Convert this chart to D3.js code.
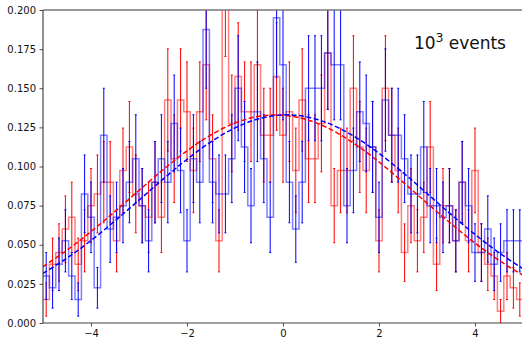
<!DOCTYPE html>
<html>
<head>
<meta charset="utf-8">
<script src="https://cdn.jsdelivr.net/npm/d3@7"></script>
<style>
  body { margin: 0; background: #fff; }
  svg { display: block; font-family: "DejaVu Sans", sans-serif; }
</style>
</head>
<body>
<div id="chart"></div>
<script>
var svgWidth = 522;
var svgHeight = 337;

// histogram: 75 bins over [-5, 5], counts per bin (each count = 0.0075 in density)
var binLo = -5;
var binHi = 5;
var countUnit = 0.0075;

var blueCounts = [4, 3, 5, 7, 4, 2, 11, 9, 3, 16, 8, 9, 10, 12, 14, 10, 7, 12, 14, 12, 17, 13, 7, 14, 12,
  25, 12, 11, 11, 14, 20, 15, 10, 18, 14, 9, 26, 22, 12, 8, 12, 20, 20, 20, 23, 22, 22, 10, 13, 18,
  17, 15, 9, 19, 16, 16, 14, 11, 11, 15, 10, 10, 9, 10, 7, 12, 10, 6, 6, 8, 5, 6, 7, 7, 7];

var redCounts = [2, 5, 6, 8, 9, 5, 7, 10, 11, 12, 12, 7, 13, 15, 11, 10, 9, 12, 9, 19, 14, 19, 18, 13, 18,
  22, 14, 7, 28, 17, 21, 18, 18, 22, 16, 16, 21, 16, 18, 13, 19, 14, 14, 17, 23, 10, 13, 13, 20, 15,
  13, 15, 7, 20, 16, 13, 6, 10, 7, 9, 15, 5, 10, 10, 7, 12, 7, 13, 6, 5, 4, 1, 4, 3, 2];

// fitted curves, read at half-unit steps
var fitX = [-5, -4.5, -4, -3.5, -3, -2.5, -2, -1.5, -1, -0.5, 0, 0.5, 1, 1.5, 2, 2.5, 3, 3.5, 4, 4.5, 5];
var redFit = [0.0360, 0.0465, 0.0584, 0.0713, 0.0847, 0.0979, 0.1100, 0.1202, 0.1278, 0.1321, 0.1328,
  0.1299, 0.1236, 0.1143, 0.1029, 0.0900, 0.0766, 0.0635, 0.0511, 0.0400, 0.0305];
var blueFit = [0.0317, 0.0415, 0.0527, 0.0653, 0.0785, 0.0919, 0.1046, 0.1158, 0.1247, 0.1305, 0.1330,
  0.1317, 0.1269, 0.1189, 0.1084, 0.0961, 0.0828, 0.0694, 0.0566, 0.0449, 0.0347];

var xTicks = [-4, -2, 0, 2, 4];
var yTicks = [0, 0.025, 0.05, 0.075, 0.1, 0.125, 0.15, 0.175, 0.2];

var margin = { top: 10, left: 43, right: -1, bottom: 14 };
var width = svgWidth - margin.left - margin.right;
var height = svgHeight - margin.top - margin.bottom;

var svg = d3.select("#chart")
  .append("svg")
  .attr("width", svgWidth)
  .attr("height", svgHeight);

var chartGroup = svg.append("g")
  .attr("transform", `translate(${margin.left}, ${margin.top})`);

var x = d3.scaleLinear().domain([binLo, binHi]).range([0, width]);
var y = d3.scaleLinear().domain([0, 0.2]).range([height, 0]);

svg.append("defs").append("clipPath")
  .attr("id", "plotClip")
  .append("rect")
  .attr("x", 0)
  .attr("y", 0)
  .attr("width", width)
  .attr("height", height);

var plot = chartGroup.append("g").attr("clip-path", "url(#plotClip)");

var nBins = blueCounts.length;
var binW = (binHi - binLo) / nBins;

function drawHist(counts, color) {
  var pts = counts.map((c, i) => [binLo + i * binW, c * countUnit]);
  pts.push([binHi, counts[counts.length - 1] * countUnit]);

  var stepLine = d3.line()
    .x(d => x(d[0]))
    .y(d => y(d[1]))
    .curve(d3.curveStepAfter);

  plot.append("path")
    .datum(pts)
    .attr("d", stepLine)
    .attr("fill", "none")
    .attr("stroke", color)
    .attr("stroke-opacity", 0.5)
    .attr("stroke-width", 1.5);

  var bars = counts.map((c, i) => ({
    cx: binLo + (i + 0.5) * binW,
    v: c * countUnit,
    e: Math.sqrt(c) * countUnit
  }));

  var errG = plot.append("g")
    .attr("stroke", color)
    .attr("stroke-width", 1);

  errG.selectAll("line.err")
    .data(bars)
    .enter()
    .append("line")
    .attr("class", "err")
    .attr("x1", d => x(d.cx))
    .attr("x2", d => x(d.cx))
    .attr("y1", d => y(d.v - d.e))
    .attr("y2", d => y(d.v + d.e));

  // tiny caps at both ends
  ["lo", "hi"].forEach(function (end) {
    errG.selectAll("line.cap" + end)
      .data(bars)
      .enter()
      .append("line")
      .attr("class", "cap" + end)
      .attr("x1", d => x(d.cx) - 1)
      .attr("x2", d => x(d.cx) + 1)
      .attr("y1", d => y(end === "lo" ? d.v - d.e : d.v + d.e))
      .attr("y2", d => y(end === "lo" ? d.v - d.e : d.v + d.e));
  });
}

drawHist(redCounts, "red");
drawHist(blueCounts, "blue");

function drawFit(vals, color) {
  var fitLine = d3.line()
    .x((d, i) => x(fitX[i]))
    .y(d => y(d))
    .curve(d3.curveCatmullRom);

  plot.append("path")
    .datum(vals)
    .attr("d", fitLine)
    .attr("fill", "none")
    .attr("stroke", color)
    .attr("stroke-width", 1.5)
    .attr("stroke-dasharray", "5,2.5");
}

drawFit(redFit, "red");
drawFit(blueFit, "blue");

// axes
var bottomAxis = d3.axisBottom(x)
  .tickValues(xTicks)
  .tickSize(3.5)
  .tickPadding(3.5)
  .tickFormat(d => d3.format("d")(d).replace("-", "\u2212"));

var leftAxis = d3.axisLeft(y)
  .tickValues(yTicks)
  .tickSize(3.5)
  .tickPadding(3.5)
  .tickFormat(d3.format(".3f"));

var xAxis = chartGroup.append("g")
  .attr("transform", `translate(0, ${height})`)
  .call(bottomAxis);

var yAxis = chartGroup.append("g")
  .call(leftAxis);

[xAxis, yAxis].forEach(function (ax) {
  ax.select(".domain").remove();
  ax.selectAll("line").attr("stroke", "#222").attr("stroke-width", 0.8);
  ax.selectAll("text")
    .attr("fill", "#111")
    .style("font-size", "10px")
    .style("font-family", "'DejaVu Sans', sans-serif");
});

// spines
chartGroup.append("line")
  .attr("x1", 0).attr("x2", 0)
  .attr("y1", 0).attr("y2", height)
  .attr("stroke", "#222").attr("stroke-width", 1);

chartGroup.append("line")
  .attr("x1", 0).attr("x2", width)
  .attr("y1", height).attr("y2", height)
  .attr("stroke", "#444").attr("stroke-width", 1.2);

chartGroup.append("line")
  .attr("x1", 0).attr("x2", width)
  .attr("y1", 0).attr("y2", 0)
  .attr("stroke", "#777").attr("stroke-width", 1.6);

// annotation
var note = chartGroup.append("text")
  .attr("x", 371)
  .attr("y", 39)
  .style("font-size", "17px")
  .attr("fill", "#111");

note.append("tspan").text("10");
note.append("tspan")
  .attr("baseline-shift", "super")
  .style("font-size", "12px")
  .text("3");
note.append("tspan").text(" events");
</script>
</body>
</html>
